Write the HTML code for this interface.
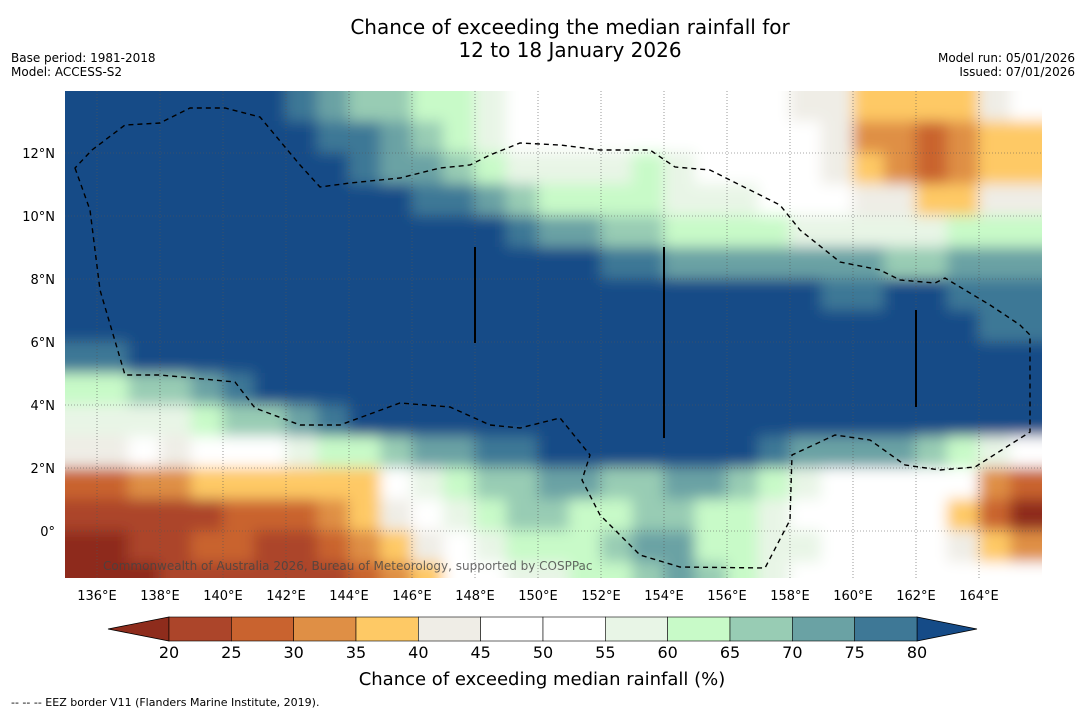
<!DOCTYPE html>
<html><head><meta charset="utf-8"><style>
body{margin:0;background:#fff;font-family:"Liberation Sans","DejaVu Sans",sans-serif}
svg{display:block}
</style></head><body>
<svg id="chart" width="1085" height="713" viewBox="0 0 1085 713" font-family="DejaVu Sans, Liberation Sans, sans-serif">
<text x="570" y="34" font-size="20" text-anchor="middle">Chance of exceeding the median rainfall for</text>
<text x="570" y="57" font-size="20" text-anchor="middle">12 to 18 January 2026</text>
<text x="11" y="62" font-size="12">Base period: 1981-2018</text>
<text x="11" y="76" font-size="12">Model: ACCESS-S2</text>
<text x="1075" y="62" font-size="12" text-anchor="end">Model run: 05/01/2026</text>
<text x="1075" y="76" font-size="12" text-anchor="end">Issued: 07/01/2026</text>
<defs>
<clipPath id="mapclip"><rect x="65" y="91" width="977" height="487"/></clipPath>
<filter id="soft" x="-5%" y="-5%" width="110%" height="110%"><feGaussianBlur stdDeviation="7"/></filter>
</defs>
<g id="map" clip-path="url(#mapclip)">
<g id="cells" filter="url(#soft)"></g>
</g>
<g id="axes"></g>
<g id="cbar"></g>
<text x="542" y="685" font-size="18" text-anchor="middle">Chance of exceeding median rainfall (%)</text>
<text x="11" y="706" font-size="11">--  --  -- EEZ border V11 (Flanders Marine Institute, 2019).</text>
</svg>
<script>
const lons=[135,136,137,138,139,140,141,142,143,144,145,146,147,148,149,150,151,152,153,154,155,156,157,158,159,160,161,162,163,164,165];
const lats=[14,13,12,11,10,9,8,7,6,5,4,3,2,1,0,-1];
const grid=[
[85,85,85,85,85,85,80,78,72,67,67,62,62,57,52,50,50,50,50,50,50,50,50,43,43,38,38,38,38,43,48],
[85,85,85,85,85,85,85,80,77,77,72,67,62,57,52,50,50,52,52,50,50,50,50,47,43,33,33,28,33,38,38],
[85,85,85,85,85,85,85,85,80,77,72,72,67,62,57,57,57,57,62,57,52,50,50,47,43,38,33,28,33,38,38],
[85,85,85,85,85,85,85,85,85,82,80,77,77,72,67,62,62,62,62,57,57,57,52,50,47,43,43,38,38,43,43],
[85,85,85,85,85,85,85,85,85,85,85,85,85,82,77,72,72,67,67,62,62,62,62,57,57,57,57,57,62,62,62],
[85,85,85,85,85,85,85,85,85,85,85,85,85,85,85,85,82,77,77,72,72,72,72,72,72,72,67,67,72,72,72],
[85,85,85,85,85,85,85,85,85,85,85,85,85,85,85,85,85,85,85,85,85,85,82,80,77,77,80,82,77,77,77],
[85,85,85,85,85,85,85,85,85,85,85,85,85,85,85,85,85,85,85,85,85,85,85,85,85,85,82,85,82,77,77],
[77,77,80,85,85,85,85,85,85,85,85,85,85,85,85,85,85,85,85,85,85,85,85,85,85,85,85,85,80,80,85],
[62,62,67,67,72,77,82,85,85,85,85,85,85,85,85,85,85,85,85,85,85,85,85,85,85,85,85,85,85,85,85],
[57,57,57,57,62,67,67,72,77,80,82,80,80,82,85,85,85,85,85,85,85,85,85,85,85,85,85,85,85,80,80],
[43,43,48,43,48,52,52,57,62,62,67,72,72,77,77,82,85,85,82,82,82,80,77,72,72,72,72,67,62,57,52],
[28,28,33,33,38,38,38,38,38,38,47,57,62,67,67,72,72,67,67,72,72,67,62,57,52,50,50,50,47,33,28],
[22,22,22,22,22,28,28,28,33,38,43,50,57,62,67,67,62,62,67,67,62,62,57,52,50,50,50,45,38,28,18],
[18,18,22,22,28,28,22,22,28,33,38,43,50,57,62,62,62,67,72,72,62,62,57,57,52,50,50,50,43,38,33],
[18,18,18,22,22,22,22,22,22,28,33,38,47,52,57,57,62,62,67,72,67,62,57,52,52,50,50,50,50,50,50]];
const binEdges=[20,25,30,35,40,45,50,55,60,65,70,75,80];
const binColors=["#8e2c1c","#ac452a","#c9632f","#df8f45","#fec965","#efede6","#ffffff","#ffffff","#e8f5e6","#c8fac8","#98ccb4","#6aa2a4","#3e7896","#154b87"];
const cbTicks=[20,25,30,35,40,45,50,55,60,65,70,75,80];
const lonTicks=[136,138,140,142,144,146,148,150,152,154,156,158,160,162,164];
const latTicks=[0,2,4,6,8,10,12];
const NS="http://www.w3.org/2000/svg";
const X=lon=>65.5+(lon-135)*31.5;
const Y=lat=>531-lat*31.5;
function colorFor(v){let i=0;while(i<binEdges.length&&v>=binEdges[i])i++;return binColors[i];}
function mk(tag,attrs,parent){const e=document.createElementNS(NS,tag);for(const k in attrs)e.setAttribute(k,attrs[k]);parent.appendChild(e);return e;}
const cells=document.getElementById('cells');
const map=document.getElementById('map');
const nR=grid.length,nC=lons.length;
grid.forEach((row,r)=>row.forEach((v,c)=>{
 let x=X(lons[c])-0.5,y=Y(lats[r])-0.5,w=32.5,h=32.5;
 if(c===0){x-=30;w+=30;} if(c===nC-1){w+=30;}
 if(r===0){y-=30;h+=30;} if(r===nR-1){h+=30;}
 const e=mk('rect',{x:x,y:y,width:w,height:h,fill:colorFor(v)},cells);
 
 
}));
lonTicks.forEach(l=>{const e=mk('line',{x1:X(l),x2:X(l),y1:91,y2:578,stroke:'#555','stroke-width':0.6,'stroke-dasharray':'1,2'},map);
 });
latTicks.forEach(l=>{const e=mk('line',{x1:65,x2:1042,y1:Y(l),y2:Y(l),stroke:'#555','stroke-width':0.6,'stroke-dasharray':'1,2'},map);
 });
const eez=mk('path',{d:"M75,168 L90,210 L100,290 L125,375 L160,375 L235,382 L255,408 L300,425 L340,425 L400,403 L450,407 L490,425 L520,428 L560,418 L590,455 L582,480 L600,515 L640,555 L680,567 L765,568 L790,520 L792,455 L835,435 L870,440 L905,465 L940,470 L975,467 L1030,432 L1030,335 L1020,325 L990,305 L945,278 L935,283 L900,280 L880,270 L840,262 L800,230 L780,205 L740,185 L710,170 L675,167 L650,150 L600,150 L560,145 L520,143 L490,155 L470,165 L440,168 L400,178 L350,183 L320,187 L300,165 L260,117 L225,108 L190,108 L160,123 L125,125 L92,150 Z",fill:'none',stroke:'#000','stroke-width':1.4,'stroke-dasharray':'5,4'},map);

[[475,247,343],[664,247,438],[916,310,407]].forEach(s=>{const e=mk('line',{x1:s[0],x2:s[0],y1:s[1],y2:s[2],stroke:'#000','stroke-width':2},map);
 });
const cp=mk('text',{x:103,y:570,'font-size':12,fill:'#444','fill-opacity':0.8},map);cp.textContent='Commonwealth of Australia 2026, Bureau of Meteorology, supported by COSPPac';

const axes=document.getElementById('axes');
lonTicks.forEach(l=>{const t=mk('text',{x:X(l),y:600,'font-size':13,'text-anchor':'middle'},axes);t.textContent=l+'°E';
 });
latTicks.forEach(l=>{const t=mk('text',{x:55,y:Y(l)+5,'font-size':13,'text-anchor':'end'},axes);t.textContent=l===0?'0°':l+'°N';
 });
const cb=document.getElementById('cbar');
const CX=v=>169+(v-20)*(748/60);
const lt=mk('polygon',{points:`108,629 ${CX(20)},617 ${CX(20)},641`,fill:binColors[0],stroke:'#000','stroke-width':0.8},cb);

const rt=mk('polygon',{points:`977,629 ${CX(80)},617 ${CX(80)},641`,fill:binColors[13],stroke:'#000','stroke-width':0.8},cb);

for(let i=0;i<binEdges.length-1;i++){const e=mk('rect',{x:CX(binEdges[i]),y:617,width:CX(binEdges[i+1])-CX(binEdges[i]),height:24,fill:binColors[i+1],stroke:'#000','stroke-width':0.6},cb);
 }
cbTicks.forEach(v=>{const t=mk('text',{x:CX(v),y:658,'font-size':16,'text-anchor':'middle'},cb);t.textContent=v;
 });
</script>
</body></html>
